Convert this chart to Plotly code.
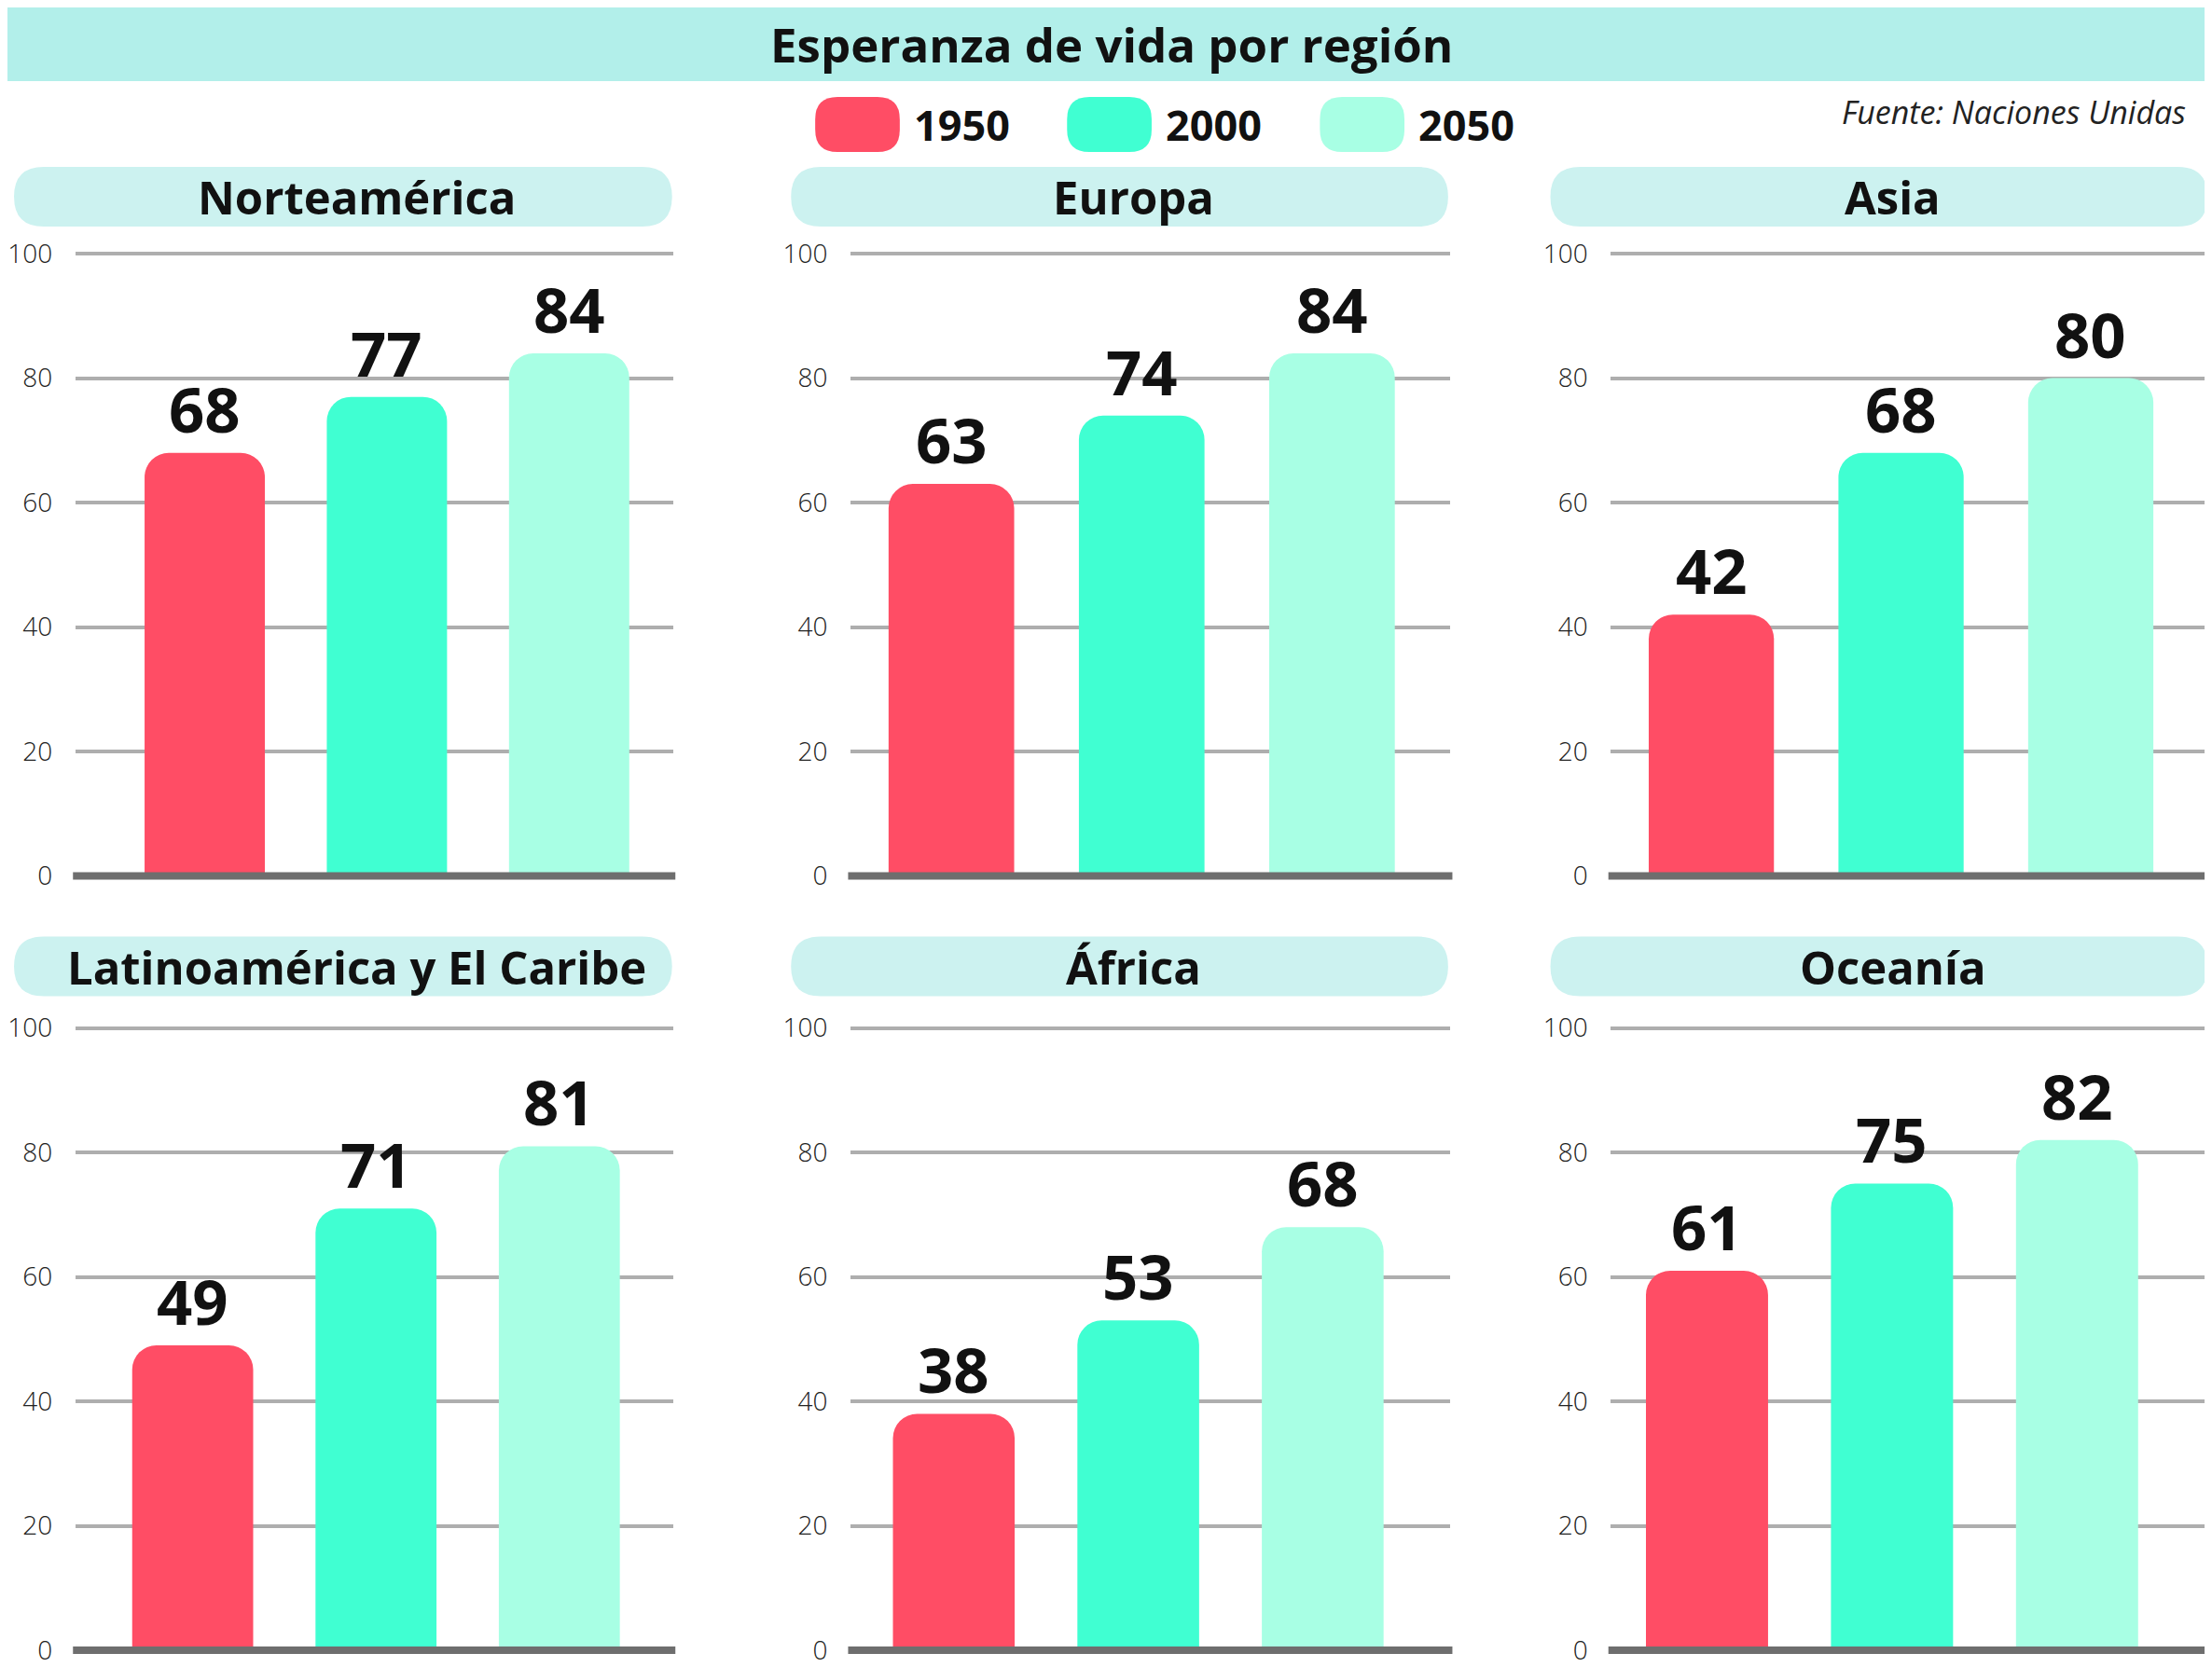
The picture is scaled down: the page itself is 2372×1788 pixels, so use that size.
import plotly.graph_objects as go

# Life expectancy by region (UN)
regions = ["Norteamérica", "Europa", "Asia",
           "Latinoamérica y El Caribe", "África", "Oceanía"]
years = ["1950", "2000", "2050"]
v1950 = [68, 63, 42, 49, 38, 61]
v2000 = [77, 74, 68, 71, 53, 75]
v2050 = [84, 84, 80, 81, 68, 82]
y_ticks = [0, 20, 40, 60, 80, 100]

colors = ["#FF4D65", "#40FFD2", "#A8FFE4"]
FONT = "Open Sans"
W, H = 2372, 1788

# the page puts the figure slightly offset/scaled; positions below are target pixels
OX, SX = 13, 0.997
OY, SY = 20, 0.986


def px(x):
    return ((x - OX) / SX) / W


def py(y):
    return 1 - ((y - OY) / SY) / H


def clamp(v):
    return min(1.0, max(0.0, v))


def rrect(x0, y0, x1, y1, r):
    """Rounded rectangle path in paper coords, from pixel box (top-left origin)."""
    pts = [
        ("M", [(x0 + r, y0)]),
        ("L", [(x1 - r, y0)]),
        ("Q", [(x1, y0), (x1, y0 + r)]),
        ("L", [(x1, y1 - r)]),
        ("Q", [(x1, y1), (x1 - r, y1)]),
        ("L", [(x0 + r, y1)]),
        ("Q", [(x0, y1), (x0, y1 - r)]),
        ("L", [(x0, y0 + r)]),
        ("Q", [(x0, y0), (x0 + r, y0)]),
    ]
    s = ""
    for cmd, ps in pts:
        s += cmd + " ".join(f"{px(a):.5f},{py(b):.5f}" for a, b in ps) + " "
    return s + "Z"


# panel placement (target pixels)
col_x = [(71, 714), (905, 1550), (1723, 2368)]
pill_x = [(5, 713), (841, 1548), (1658, 2365)]
row_y = [(271, 938), (1101, 1768)]     # pixel of 100 and of 0
pill_y = [(178, 242), (1003, 1067)]
x_ranges = [[-0.71, 2.57], [-0.53, 2.62], [-0.53, 2.63],
            [-0.64, 2.62], [-0.56, 2.69], [-0.52, 2.72]]
Y_RANGE = [-1, 101]

fig = go.Figure()
shapes = []
annotations = []
layout_axes = {}

# title band
shapes.append(dict(type="path", path=rrect(-10, -30, W + 10, 86, 0), xref="paper", yref="paper",
                   fillcolor="#B2EFEA", line_width=0, layer="below"))
annotations.append(dict(text="Esperanza de vida por región", x=px(1186), y=py(46),
                        xanchor="center", yanchor="middle",
                        xref="paper", yref="paper", showarrow=False,
                        font=dict(family=FONT, size=51, color="#111", weight=700)))

# legend
leg_x = [867, 1138, 1410]
for k, yr in enumerate(years):
    shapes.append(dict(type="path", path=rrect(leg_x[k], 103, leg_x[k] + 91, 162, 24),
                       xref="paper", yref="paper", fillcolor=colors[k], line_width=0))
    annotations.append(dict(text=yr, x=px(leg_x[k] + 104), y=py(132),
                            xanchor="left", yanchor="middle",
                            xref="paper", yref="paper", showarrow=False,
                            font=dict(family=FONT, size=45, color="#111", weight=700)))

annotations.append(dict(text="<i>Fuente: Naciones Unidas</i>", x=px(2344), y=py(119),
                        xanchor="right", yanchor="middle",
                        xref="paper", yref="paper", showarrow=False,
                        font=dict(family=FONT, size=34, color="#222")))

for i, reg in enumerate(regions):
    r, c = divmod(i, 3)
    n = i + 1
    xa, ya = ("x", "y") if n == 1 else (f"x{n}", f"y{n}")
    vals = [v1950[i], v2000[i], v2050[i]]

    fig.add_trace(go.Bar(
        x=[0, 1, 2], y=vals, width=0.66, xaxis=xa, yaxis=ya,
        marker=dict(color=colors, line_width=0, cornerradius=26),
        showlegend=False, hoverinfo="skip",
    ))

    for j, v in enumerate(vals):
        annotations.append(dict(text=str(v), x=j, y=v, xref=xa, yref=ya,
                                xanchor="center", yanchor="bottom", yshift=0,
                                showarrow=False,
                                font=dict(family=FONT, size=67, color="#111", weight=700)))

    # region pill + title
    x0, x1 = pill_x[c]
    y0, y1 = pill_y[r]
    shapes.append(dict(type="path", path=rrect(x0, y0, x1, y1, 32), xref="paper",
                       yref="paper", fillcolor="#CCF2F0", line_width=0, layer="below"))
    annotations.append(dict(text=reg, x=px((x0 + x1) / 2 + 15), y=py((y0 + y1) / 2),
                            xanchor="center", yanchor="middle",
                            xref="paper", yref="paper", showarrow=False,
                            font=dict(family=FONT, size=49, color="#111", weight=700)))

    # base line
    shapes.append(dict(type="line", xref=f"{xa} domain", yref=ya, x0=-0.004, x1=1.004,
                       y0=0, y1=0, line=dict(color="#6E6E6E", width=8), layer="above"))

    top100, bot0 = row_y[r]
    unit = (bot0 - top100) / 100
    dom_top = clamp(py(top100 - (Y_RANGE[1] - 100) * unit))
    dom_bot = clamp(py(bot0 - Y_RANGE[0] * unit))

    layout_axes["xaxis" if n == 1 else f"xaxis{n}"] = dict(
        domain=[clamp(px(col_x[c][0])), clamp(px(col_x[c][1]))], range=x_ranges[i],
        anchor=ya, showgrid=False, zeroline=False, showticklabels=False,
        fixedrange=True)
    layout_axes["yaxis" if n == 1 else f"yaxis{n}"] = dict(
        domain=[dom_bot, dom_top], range=Y_RANGE, anchor=xa,
        tickvals=y_ticks, showgrid=True, gridcolor="#AEAEAE", gridwidth=4,
        zeroline=False, ticks="outside", ticklen=18, tickcolor="rgba(0,0,0,0)",
        tickfont=dict(family=FONT, size=28, color="#222", weight=300),
        fixedrange=True)

fig.update_layout(
    width=W, height=H,
    margin=dict(l=0, r=0, t=0, b=0),
    paper_bgcolor="white", plot_bgcolor="white",
    shapes=shapes, annotations=annotations,
    bargap=0.3,
    **layout_axes,
)

fig.write_html("out.html")
